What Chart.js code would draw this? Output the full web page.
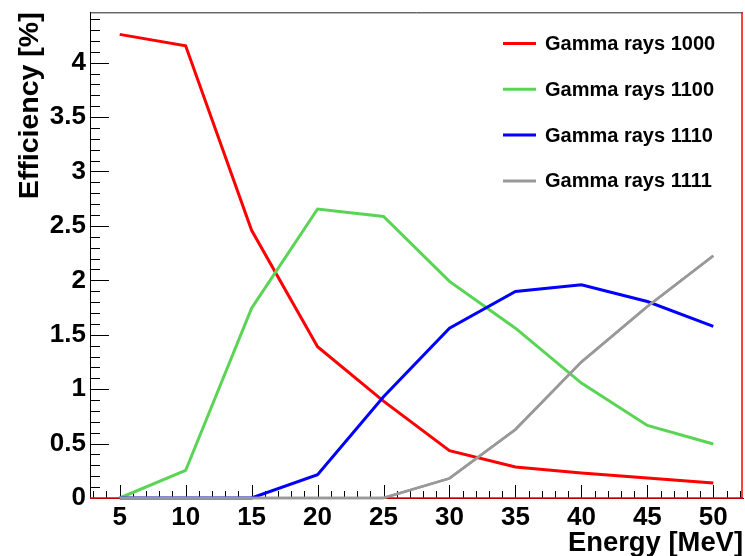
<!DOCTYPE html>
<html>
<head>
<meta charset="utf-8">
<script src="https://cdn.jsdelivr.net/npm/chart.js@4"></script>
<style>
  html, body { margin: 0; padding: 0; background: #fff; }
  #wrap { width: 745px; height: 556px; }
</style>
</head>
<body>
<div id="wrap"><canvas id="c" width="745" height="556"></canvas></div>
<script>
// ---- data ----
const energies  = [5, 10, 15, 20, 25, 30, 35, 40, 45, 50];
const gamma1000 = [4.26, 4.155, 2.46, 1.39, 0.89, 0.435, 0.285, 0.23, 0.184, 0.138];
const gamma1100 = [0, 0.253, 1.745, 2.655, 2.586, 1.99, 1.56, 1.056, 0.667, 0.496];
const gamma1110 = [0, 0, 0, 0.214, 0.93, 1.561, 1.897, 1.96, 1.805, 1.577];
const gamma1111 = [0, 0, 0, 0, 0, 0.18, 0.63, 1.25, 1.76, 2.225];
const seriesLabels = ['Gamma rays 1000', 'Gamma rays 1100', 'Gamma rays 1110', 'Gamma rays 1111'];
const seriesColors = ['#ff0000', '#59d454', '#0000ff', '#999999'];
const xTicks = [5, 10, 15, 20, 25, 30, 35, 40, 45, 50];
const yTicks = [0, 0.5, 1, 1.5, 2, 2.5, 3, 3.5, 4];

const FONT = "'Liberation Sans', Arial, Helvetica, sans-serif";
const pts = (ys) => energies.map((x, i) => ({ x, y: ys[i] }));

/* ROOT-style frame: inside ticks, red zero line, legend */
const rootFrame = {
  id: 'rootFrame',
  beforeDatasetsDraw(chart) {
    const { ctx, chartArea: a, scales: { x, y } } = chart;
    ctx.save();
    ctx.strokeStyle = '#000';
    ctx.lineWidth = 1;
    ctx.beginPath();
    // x ticks (major every 5, minor every 1)
    for (let v = 3; v <= 52; v++) {
      const px = Math.round(x.getPixelForValue(v)) + 0.5;
      const len = v % 5 === 0 ? 13 : 7;
      ctx.moveTo(px, a.bottom); ctx.lineTo(px, a.bottom - len);
    }
    // y ticks (major every 0.5, minor every 0.1)
    for (let k = 0; k <= 44; k++) {
      const py = Math.round(y.getPixelForValue(k / 10)) + 0.5;
      const len = k % 5 === 0 ? 19 : 10;
      ctx.moveTo(a.left, py); ctx.lineTo(a.left + len, py);
    }
    ctx.stroke();
    // top border
    ctx.strokeStyle = '#222';
    ctx.beginPath();
    ctx.moveTo(a.left, a.top + 0.5); ctx.lineTo(a.right, a.top + 0.5);
    ctx.stroke();
    ctx.restore();
  },
  afterDatasetsDraw(chart) {
    // red zero line + red right border
    const { ctx, chartArea: a, scales: { y } } = chart;
    ctx.save();
    ctx.strokeStyle = '#ff0000';
    ctx.lineWidth = 1.5;
    const y0 = y.getPixelForValue(0);
    ctx.beginPath();
    ctx.moveTo(a.left, y0); ctx.lineTo(a.right, y0);
    ctx.moveTo(a.right - 1, a.top); ctx.lineTo(a.right - 1, y0);
    ctx.stroke();
    // gray series sits on top of the zero line in the reference
    chart.getDatasetMeta(3).dataset.draw(ctx, a);
    ctx.restore();
  },
  afterDraw(chart) {
    const { ctx } = chart;
    ctx.save();
    ctx.font = 'bold 20px ' + FONT;
    ctx.textBaseline = 'middle';
    ctx.fillStyle = '#000';
    chart.data.datasets.forEach((ds, i) => {
      const ly = 43.5 + i * 45.8;
      ctx.strokeStyle = ds.borderColor;
      ctx.lineWidth = 3;
      ctx.beginPath();
      ctx.moveTo(503, ly); ctx.lineTo(536, ly);
      ctx.stroke();
      ctx.fillText(ds.label, 545, ly + 1);
    });
    ctx.restore();
  }
};

const datasets = [gamma1000, gamma1100, gamma1110, gamma1111].map((ys, i) => ({
  label: seriesLabels[i],
  data: pts(ys),
  borderColor: seriesColors[i],
  backgroundColor: seriesColors[i],
  borderWidth: i === 3 ? 2.6 : 3,
  pointRadius: 0,
  tension: 0,
  fill: false,
  clip: 6,
  order: 3 - i
}));

new Chart(document.getElementById('c'), {
  type: 'line',
  data: { datasets },
  options: {
    responsive: false,
    animation: false,
    layout: { padding: { top: 0, right: 2, left: 0, bottom: 0 } },
    plugins: { legend: { display: false }, tooltip: { enabled: false } },
    scales: {
      x: {
        type: 'linear',
        min: 2.75, max: 52.25,
        afterBuildTicks: (s) => { s.ticks = xTicks.map(v => ({ value: v })); },
        afterFit: (s) => { s.height = 58; },
        grid: { display: false, drawTicks: false },
        border: { display: true, color: '#000', width: 1 },
        ticks: { color: '#000', padding: 4, maxRotation: 0, autoSkip: false,
                 callback: (v) => String(v),
                 font: { family: FONT, size: 26, weight: 'bold' } },
        title: { display: true, text: 'Energy [MeV]', align: 'end', color: '#000',
                 padding: { top: 0, bottom: -4 },
                 font: { family: FONT, size: 27.4, weight: 'bold' } }
      },
      y: {
        min: 0, max: 4.4625,
        afterBuildTicks: (s) => { s.ticks = yTicks.map(v => ({ value: v })); },
        afterFit: (s) => { s.width = 90; },
        grid: { display: false, drawTicks: false },
        border: { display: true, color: '#000', width: 1 },
        ticks: { color: '#000', padding: 4, autoSkip: false,
                 callback: (v) => String(v),
                 font: { family: FONT, size: 26, weight: 'bold', lineHeight: 0.64 } },
        title: { display: true, text: 'Efficiency [%]', align: 'end', color: '#000',
                 padding: { top: 13, bottom: 0 },
                 font: { family: FONT, size: 28.5, weight: 'bold' } }
      }
    }
  },
  plugins: [rootFrame]
});
</script>
</body>
</html>
